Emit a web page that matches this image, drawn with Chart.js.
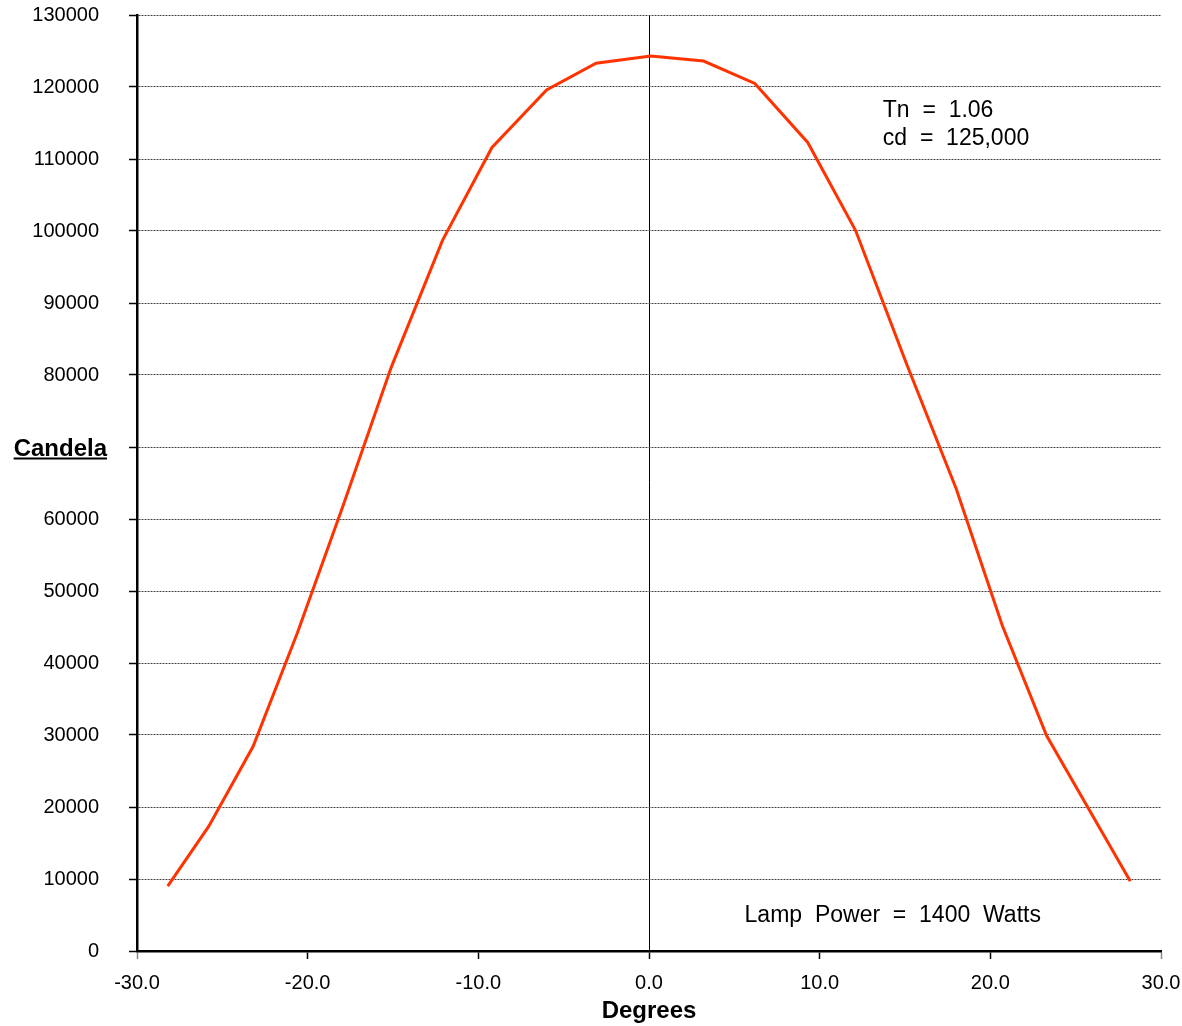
<!DOCTYPE html>
<html>
<head>
<meta charset="utf-8">
<script src="https://cdn.jsdelivr.net/npm/chart.js@4/dist/chart.umd.min.js"></script>
<style>
  html, body { margin: 0; padding: 0; background: #fff; }
  canvas { display: block; }
</style>
</head>
<body>
<canvas id="beamChart" width="1182" height="1026"></canvas>
<script>
/* global Chart */

// beam profile
const angles = [-28.2, -25.8, -23.2, -20.6, -17.9, -15.1, -12.1, -9.2, -6.0, -3.1, 0.1,
  3.2, 6.2, 9.3, 12.1, 15.1, 18.0, 20.7, 23.3, 25.8, 28.2];
const candela = [9000, 17300, 28400, 44200, 62000, 81100, 98700, 111600, 119600, 123300, 124300,
  123600, 120500, 112300, 100100, 81500, 64200, 45200, 29900, 19600, 9700];

const yTickLabels = ['0', '10000', '20000', '30000', '40000', '50000', '60000', '',
  '80000', '90000', '100000', '110000', '120000', '130000'];
const xTickLabels = ['-30.0', '-20.0', '-10.0', '0.0', '10.0', '20.0', '30.0'];

const notes = ['Tn  =  1.06', 'cd  =  125,000', 'Lamp  Power  =  1400  Watts'];

const FONT = '"Liberation Sans", Arial, Helvetica, sans-serif';

// labels may hang outside the plot, don't let them shrink it
function noPadding(scale) {
  scale.paddingTop = 0;
  scale.paddingBottom = 0;
  scale.paddingLeft = 0;
  scale.paddingRight = 0;
}

// underlined axis name sitting where the 70000 label would be,
// plus the free text notes
const textPlugin = {
  id: 'textPlugin',
  afterDraw(chart) {
    const { ctx } = chart;
    const xs = chart.scales.x;
    const ys = chart.scales.y;

    ctx.save();
    ctx.fillStyle = '#000';
    ctx.font = `bold 24px ${FONT}`;
    ctx.textAlign = 'right';
    ctx.textBaseline = 'alphabetic';
    const label = 'Candela';
    const right = ys.right - 30;
    const base = ys.getPixelForValue(70000) + 8.5;
    ctx.fillText(label, right, base);
    const w = ctx.measureText(label).width;
    ctx.fillRect(right - w, base + 2, w, 2);

    ctx.font = `23px ${FONT}`;
    ctx.textAlign = 'left';
    ctx.fillText(notes[0], xs.getPixelForValue(13.7), ys.getPixelForValue(115800));
    ctx.fillText(notes[1], xs.getPixelForValue(13.7), ys.getPixelForValue(111900));
    ctx.fillText(notes[2], xs.getPixelForValue(5.6), ys.getPixelForValue(3980));
    ctx.restore();
  },
};

function beamChart() {
  const points = angles.map((a, i) => ({ x: a, y: candela[i] }));
  const config = {
    type: 'line',
    data: {
      datasets: [{
        data: points,
        borderColor: '#ff3300',
        borderWidth: 3,
        pointRadius: 0,
        tension: 0,
        fill: false,
      }],
    },
    options: {
      responsive: false,
      animation: false,
      layout: { padding: { top: 15, right: 21, left: 0, bottom: 0 } },
      plugins: {
        legend: { display: false },
        tooltip: { enabled: false },
      },
      scales: {
        x: {
          type: 'linear',
          min: -30,
          max: 30,
          afterFit: (scale) => { scale.height = 75; noPadding(scale); },
          ticks: {
            stepSize: 10,
            autoSkip: false,
            maxRotation: 0,
            padding: 12,
            color: '#000',
            font: { family: FONT, size: 20 },
            callback: (v, i) => xTickLabels[i],
          },
          grid: {
            color: (c) => (c.tick && c.tick.value === 0 ? '#000' : 'rgba(0,0,0,0)'),
            lineWidth: 1,
            tickLength: 8,
            tickColor: (c) => (c.tick && Math.abs(c.tick.value) === 30 ? '#888' : '#000'),
            tickWidth: 1.5,
          },
          border: { color: '#000', width: 2.5 },
          title: {
            display: true,
            text: 'Degrees',
            color: '#000',
            padding: 0,
            font: { family: FONT, size: 24, weight: 'bold' },
          },
        },
        y: {
          min: 0,
          max: 130000,
          afterFit: (scale) => { scale.width = 137; noPadding(scale); },
          ticks: {
            stepSize: 10000,
            autoSkip: false,
            padding: 30,
            color: '#000',
            font: { family: FONT, size: 20 },
            callback: (v, i) => yTickLabels[i],
          },
          grid: {
            color: '#444',
            lineWidth: 1,
            tickLength: 8,
            tickColor: '#000',
            tickWidth: 1.5,
            tickBorderDash: [],
          },
          border: { color: '#000', width: 2.5, dash: [2, 1] },
        },
      },
    },
    plugins: [textPlugin],
  };
  const ctx = document.getElementById('beamChart');

  return new Chart(ctx, config);
}

beamChart();
</script>
</body>
</html>
